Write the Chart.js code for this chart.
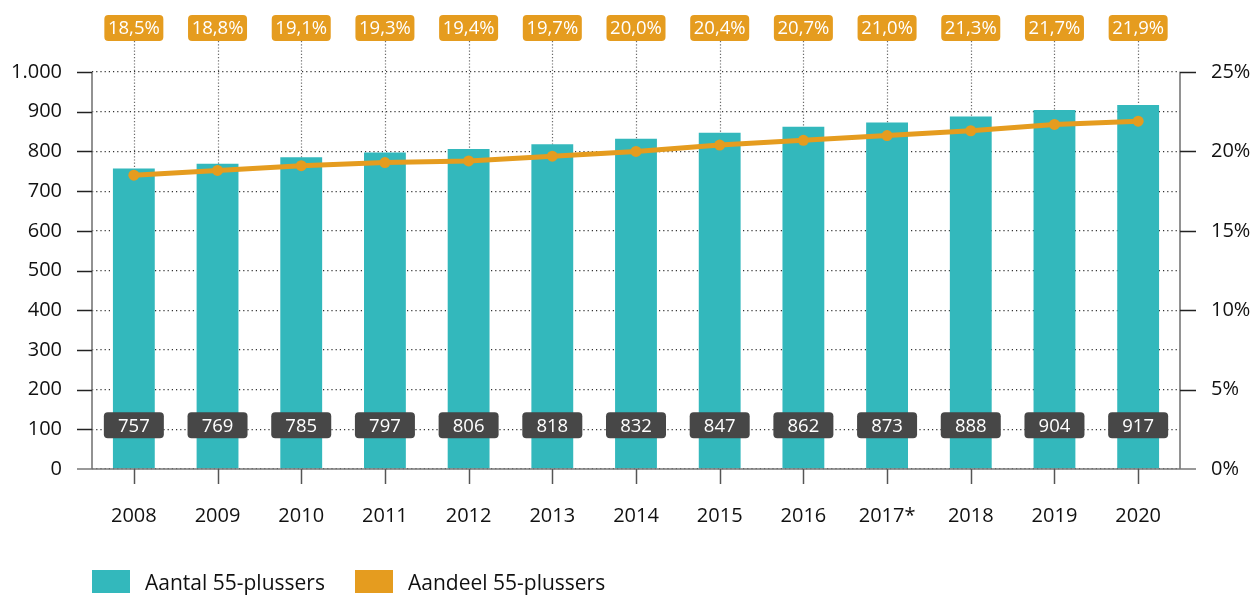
<!DOCTYPE html>
<html>
<head>
<meta charset="utf-8">
<script src="https://cdn.jsdelivr.net/npm/chart.js@4/dist/chart.umd.min.js"></script>
<style>
  html,body{margin:0;padding:0;background:#fff;}
  canvas{display:block;}
</style>
</head>
<body>
<canvas id="c" width="1256" height="597"></canvas>
<script>
const years = ['2008','2009','2010','2011','2012','2013','2014','2015','2016','2017*','2018','2019','2020'];
const aantal = [757,769,785,797,806,818,832,847,862,873,888,904,917];
const aandeel = [18.5,18.8,19.1,19.3,19.4,19.7,20.0,20.4,20.7,21.0,21.3,21.7,21.9];
const seriesNames = ['Aantal 55-plussers','Aandeel 55-plussers'];

const TEAL = '#33b8bc';
const ORANGE = '#e59c1f';
const DARK = '#474747';
const FONT = '"Open Sans", "Noto Sans", sans-serif';
const TXT = '#111';

function fmtThousands(v){ return String(v).replace(/\B(?=(\d{3})+(?!\d))/g,'.'); }
function fmtPct(v){ return v.toFixed(1).replace('.',',') + '%'; }

function roundRect(ctx,x,y,w,h,r){
  ctx.beginPath();
  ctx.moveTo(x+r,y);
  ctx.lineTo(x+w-r,y); ctx.quadraticCurveTo(x+w,y,x+w,y+r);
  ctx.lineTo(x+w,y+h-r); ctx.quadraticCurveTo(x+w,y+h,x+w-r,y+h);
  ctx.lineTo(x+r,y+h); ctx.quadraticCurveTo(x,y+h,x,y+h-r);
  ctx.lineTo(x,y+r); ctx.quadraticCurveTo(x,y,x+r,y);
  ctx.closePath();
}

const decor = {
  id:'decor',
  beforeDatasetsDraw(chart){
    const ctx = chart.ctx;
    const meta = chart.getDatasetMeta(1);
    const top = chart.chartArea.top - 31;
    ctx.save();
    ctx.setLineDash([1.2,2]);
    ctx.strokeStyle = '#6a6a6a';
    ctx.lineWidth = 1.2;
    meta.data.forEach(pt=>{
      const x = Math.round(pt.x)+0.5;
      ctx.beginPath(); ctx.moveTo(x, top); ctx.lineTo(x, pt.y); ctx.stroke();
    });
    ctx.restore();
  },
  afterDraw(chart){
    const ctx = chart.ctx;
    const ca = chart.chartArea;
    const xs = chart.scales.x, ys = chart.scales.y, y2 = chart.scales.y2;
    ctx.save();
    // axis lines
    ctx.strokeStyle = '#777';
    ctx.lineWidth = 1.6;
    ctx.beginPath(); ctx.moveTo(ca.left, ca.top); ctx.lineTo(ca.left, ca.bottom); ctx.stroke();
    ctx.beginPath(); ctx.moveTo(ca.right, ca.top); ctx.lineTo(ca.right, ca.bottom); ctx.stroke();
    ctx.beginPath(); ctx.moveTo(ca.left-15, ca.bottom); ctx.lineTo(ca.right+16, ca.bottom); ctx.stroke();
    // tick marks
    ctx.strokeStyle = '#222';
    ctx.lineWidth = 1.5;
    ys.ticks.forEach(t=>{
      const y = Math.round(ys.getPixelForValue(t.value))+0.5;
      if (t.value===0) return;
      ctx.beginPath(); ctx.moveTo(ca.left-15, y); ctx.lineTo(ca.left, y); ctx.stroke();
    });
    y2.ticks.forEach(t=>{
      const y = Math.round(y2.getPixelForValue(t.value))+0.5;
      if (t.value===0) return;
      ctx.beginPath(); ctx.moveTo(ca.right, y); ctx.lineTo(ca.right+16, y); ctx.stroke();
    });
    ctx.strokeStyle = '#555';
    years.forEach((_,i)=>{
      const x = Math.round(xs.getPixelForValue(i))+0.5;
      ctx.beginPath(); ctx.moveTo(x, ca.bottom); ctx.lineTo(x, ca.bottom+15); ctx.stroke();
    });
    // bottom value labels
    ctx.textAlign='center'; ctx.textBaseline='middle';
    ctx.font = '18.5px ' + FONT;
    const by = ys.getPixelForValue(100) - 4;
    aantal.forEach((v,i)=>{
      const x = xs.getPixelForValue(i);
      ctx.fillStyle = DARK;
      roundRect(ctx, x-30, by-13, 60, 26, 4); ctx.fill();
      ctx.fillStyle = '#fff';
      ctx.fillText(String(v), x, by+1);
    });
    // top percentage labels
    const ty = ca.top - 44;
    aandeel.forEach((v,i)=>{
      const x = xs.getPixelForValue(i);
      ctx.fillStyle = ORANGE;
      roundRect(ctx, x-29.5, ty-13, 59, 26, 4); ctx.fill();
      ctx.fillStyle = '#fff';
      ctx.fillText(fmtPct(v), x, ty+1);
    });
    // legend
    ctx.textAlign='left';
    ctx.font = '21px ' + FONT;
    const legendItems = [[92, TEAL, seriesNames[0]], [355, ORANGE, seriesNames[1]]];
    legendItems.forEach(([lx,col,txt])=>{
      ctx.fillStyle = col;
      ctx.fillRect(lx, 570, 38, 23);
      ctx.fillStyle = TXT;
      ctx.fillText(txt, lx+53, 584);
    });
    ctx.restore();
  }
};

new Chart(document.getElementById('c'), {
  data: {
    labels: years,
    datasets: [
      {
        type:'bar', label: seriesNames[0], data: aantal, yAxisID:'y',
        backgroundColor: TEAL, borderWidth:0,
        barPercentage: 0.5, categoryPercentage: 1.0, order: 1
      },
      {
        type:'line', label: seriesNames[1], data: aandeel, yAxisID:'y2',
        borderColor: ORANGE, backgroundColor: ORANGE, borderWidth: 5,
        pointRadius: 5.5, pointBackgroundColor: ORANGE, pointBorderWidth: 0,
        tension: 0, order: 0
      }
    ]
  },
  options: {
    responsive:false, animation:false, devicePixelRatio:1,
    layout:{ padding:{ top:72, left:0, right:0, bottom:0 } },
    plugins:{ legend:{display:false}, tooltip:{enabled:false} },
    scales:{
      x:{
        offset:true,
        grid:{ display:true, drawOnChartArea:false, drawTicks:true, tickLength:15, tickColor:'transparent' },
        border:{ display:false },
        ticks:{ color:TXT, font:{ family:FONT, size:20 }, padding:20, maxRotation:0, autoSkip:false },
        afterFit(s){ s.height = 128; }
      },
      y:{
        position:'left', min:0, max:1000,
        grid:{ color:'#333', lineWidth:1.2, drawTicks:true, tickLength:15, tickColor:'transparent' },
        border:{ display:false, dash:[1.2,3] },
        ticks:{ stepSize:100, color:TXT, font:{ family:FONT, size:20 }, padding:15,
          callback:(v)=>fmtThousands(v) },
        afterFit(s){ s.width = 92; }
      },
      y2:{
        position:'right', min:0, max:25,
        grid:{ drawOnChartArea:false, drawTicks:true, tickLength:16, tickColor:'transparent' },
        border:{ display:false },
        ticks:{ stepSize:5, color:TXT, font:{ family:FONT, size:20 }, padding:15,
          callback:(v)=>v+'%' },
        afterFit(s){ s.width = 76; }
      }
    }
  },
  plugins:[decor]
});
</script>
</body>
</html>
